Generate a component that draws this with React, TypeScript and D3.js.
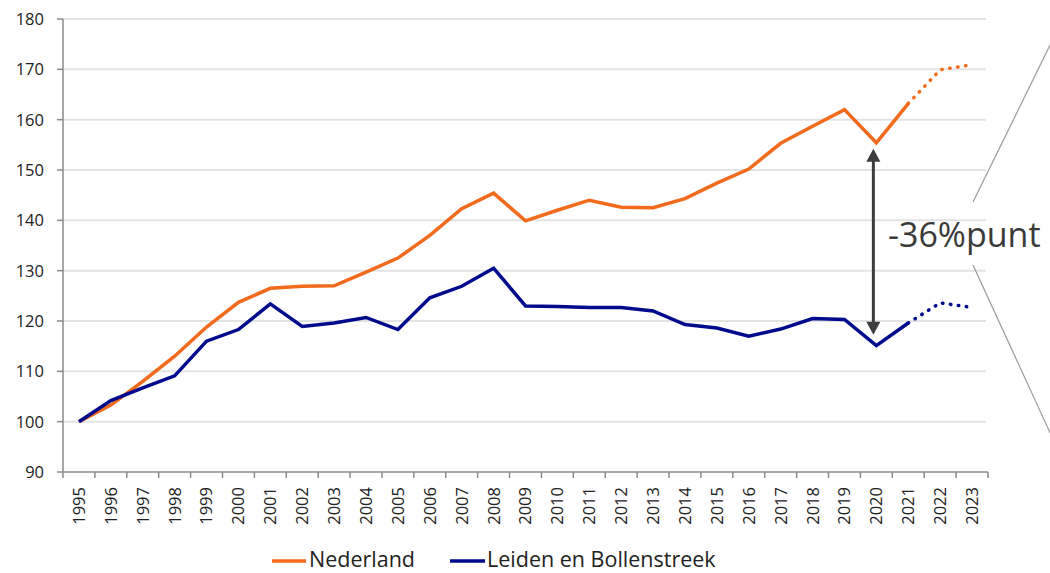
import React from "react";
import * as d3 from "d3";

const years = [
  "1995", "1996", "1997", "1998", "1999", "2000", "2001", "2002", "2003", "2004",
  "2005", "2006", "2007", "2008", "2009", "2010", "2011", "2012", "2013", "2014",
  "2015", "2016", "2017", "2018", "2019", "2020", "2021", "2022", "2023",
];

const nederland = [
  100, 103.3, 108.0, 113.0, 118.8, 123.7, 126.5, 126.9, 127.0, 129.7,
  132.5, 137.0, 142.3, 145.4, 139.9, 142.0, 144.0, 142.6, 142.5, 144.3,
  147.4, 150.2, 155.3, 158.7, 162.0, 155.4, 163.2, 169.9, 170.9,
];

const leiden = [
  100, 104.2, 106.7, 109.1, 116.0, 118.3, 123.4, 118.9, 119.6, 120.7,
  118.3, 124.6, 126.9, 130.5, 123.0, 122.9, 122.7, 122.7, 122.0, 119.3,
  118.6, 117.0, 118.4, 120.5, 120.3, 115.1, 119.6, 123.6, 122.7,
];

const yTicks = [90, 100, 110, 120, 130, 140, 150, 160, 170, 180];

const seriesNames = ["Nederland", "Leiden en Bollenstreek"];
const gapLabel = "-36%punt";
const gapYear = "2020";
const lastActual = "2021";

const ORANGE = "#f26a1b";
const BLUE = "#000a8c";
const FONT = "'Open Sans', 'DejaVu Sans', sans-serif";

const margin = { top: 19, right: 62, bottom: 101, left: 63 };
const width = 1050;
const height = 573;

export default function App() {
  const plotW = width - margin.left - margin.right;
  const plotH = height - margin.top - margin.bottom;

  const x = d3.scaleBand().domain(years).range([0, plotW]).padding(0);
  const y = d3.scaleLinear().domain([90, 180]).range([plotH, 0]);
  const cx = (yr: string) => (x(yr) ?? 0) + x.bandwidth() / 2;

  const line = d3
    .line<number>()
    .x((d, i) => cx(years[i]))
    .y((d) => y(d));

  // solid up to the last actual year, dotted after (forecast)
  const cut = years.indexOf(lastActual);
  const solidPath = (vals: number[]) =>
    line.defined((d, i) => i <= cut)(vals) ?? "";
  const dotPath = (vals: number[]) =>
    line.defined((d, i) => i >= cut)(vals) ?? "";

  const gi = years.indexOf(gapYear);
  const ax = cx(gapYear) - 3;
  const aTop = y(nederland[gi]) + 6;
  const aBot = y(leiden[gi]) - 11;

  return (
    <div style={{ position: "absolute", left: 0, top: 0 }}>
      <svg width={width} height={height} style={{ display: "block", background: "#fff" }}>
        <g transform={`translate(${margin.left}, ${margin.top})`}>
          {/* grid */}
          {yTicks.slice(1).map((t) => (
            <line key={t} x1={0} x2={plotW - 2} y1={y(t)} y2={y(t)} stroke="#e3e3e3" strokeWidth={2} />
          ))}

          {/* axes */}
          <line x1={0} x2={0} y1={0} y2={plotH} stroke="#8a8a8a" strokeWidth={1.5} />
          <line x1={0} x2={plotW} y1={plotH} y2={plotH} stroke="#8a8a8a" strokeWidth={1.5} />
          {yTicks.map((t) => (
            <g key={t}>
              <line x1={-6} x2={0} y1={y(t)} y2={y(t)} stroke="#8a8a8a" strokeWidth={1.5} />
              <text x={-19} y={y(t)} dy="0.36em" textAnchor="end" fontFamily={FONT} fontSize={16.5} fill="#222">
                {t}
              </text>
            </g>
          ))}
          {[...years.map((yr) => x(yr) ?? 0), plotW].map((p, i) => (
            <line key={i} x1={p} x2={p} y1={plotH} y2={plotH + 6} stroke="#8a8a8a" strokeWidth={1.5} />
          ))}
          {years.map((yr) => (
            <text
              key={yr}
              transform={`translate(${cx(yr)}, ${plotH + 15}) rotate(-90)`}
              dy="0.36em"
              textAnchor="end"
              fontFamily={FONT}
              fontSize={16.5}
              fill="#222"
            >
              {yr}
            </text>
          ))}

          {/* series */}
          {[nederland, leiden].map((vals, k) => (
            <g key={k} fill="none" stroke={k === 0 ? ORANGE : BLUE} strokeWidth={3.5}>
              <path d={solidPath(vals)} strokeLinejoin="miter" />
              <path d={dotPath(vals)} strokeDasharray="0.5 7.5" strokeLinecap="round" />
            </g>
          ))}

          {/* gap arrow */}
          <line x1={ax} x2={ax} y1={aTop + 12} y2={aBot - 12} stroke="#3d3d3d" strokeWidth={3} />
          <path d={`M${ax},${aTop} L${ax - 7},${aTop + 13} L${ax + 7},${aTop + 13} Z`} fill="#3d3d3d" />
          <path d={`M${ax},${aBot} L${ax - 7},${aBot - 13} L${ax + 7},${aBot - 13} Z`} fill="#3d3d3d" />
        </g>

        <text x={888} y={247} fontFamily={FONT} fontSize={34} fill="#3a3a3a">
          {gapLabel}
        </text>
        <line x1={973} y1={202} x2={1052} y2={41} stroke="#9a9a9a" strokeWidth={1.2} />
        <line x1={973} y1={265} x2={1052} y2={437} stroke="#9a9a9a" strokeWidth={1.2} />

        {/* legend */}
        <g fontFamily={FONT} fontSize={21.5} fill="#222">
          <line x1={272} x2={306} y1={561} y2={561} stroke={ORANGE} strokeWidth={3.5} />
          <text x={309} y={567}>{seriesNames[0]}</text>
          <line x1={450} x2={485} y1={561} y2={561} stroke={BLUE} strokeWidth={3.5} />
          <text x={487} y={567}>{seriesNames[1]}</text>
        </g>
      </svg>
    </div>
  );
}
